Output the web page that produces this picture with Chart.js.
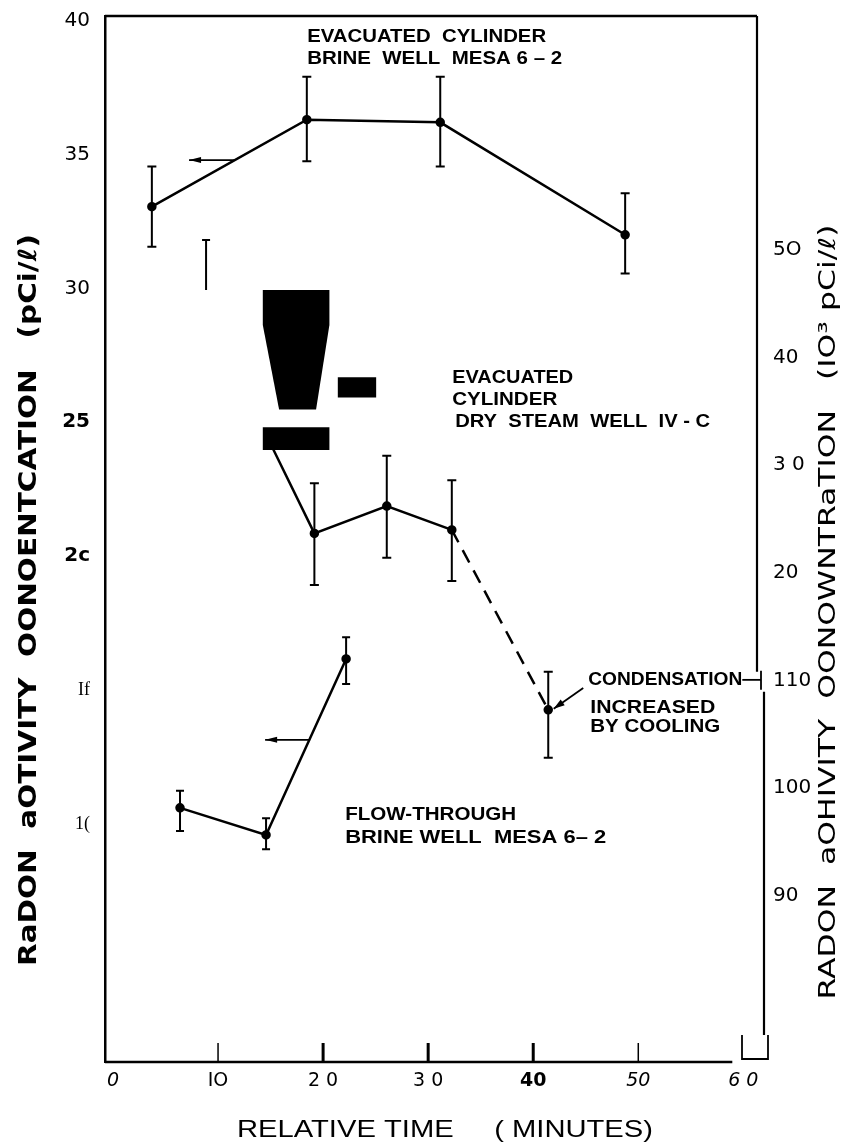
<!DOCTYPE html>
<html>
<head>
<meta charset="utf-8">
<script src="https://cdn.jsdelivr.net/npm/chart.js@4.4.1/dist/chart.umd.min.js"></script>
<style>
  html, body { margin: 0; padding: 0; background: #fff; }
  #myChart { display: block; }
</style>
</head>
<body>
<canvas id="myChart" width="846" height="1147"></canvas>
<script>
// evacuated cylinder, brine well Mesa 6-2 (left axis, pCi/l)
const brineCylTime = [3.7, 18.45, 31.15, 48.75];
const brineCylValue = [33.05, 36.3, 36.2, 32.0];
const brineCylLow = [31.55, 34.75, 34.55, 30.55];
const brineCylHigh = [34.55, 37.9, 37.9, 33.55];

// evacuated cylinder, dry steam well IV-C (first point lies under the blot)
const steamTime = [15.24, 19.17, 26.06, 32.25, 41.43];
const steamValue = [24.0, 20.85, 21.87, 20.98, 14.26];
const steamLow = [null, 18.92, 19.94, 19.07, 12.47];
const steamHigh = [null, 22.72, 23.75, 22.83, 15.68];

// flow-through, brine well Mesa 6-2
const flowTime = [6.38, 14.57, 22.19];
const flowValue = [10.6, 9.59, 16.16];
const flowLow = [9.74, 9.05, 15.23];
const flowHigh = [11.24, 10.21, 16.97];

// lone error bar left over near 9 min
const strayTime = [8.86];
const strayLow = [29.94];
const strayHigh = [31.81];

// axis arrows: which scale a curve belongs to
const arrowValue = [34.79, 13.14];
const arrowFrom = [11.62, 18.76];
const arrowTo = [7.24, 14.48];

const xTicks = [0, 10, 20, 30, 40, 50, 60];
const xTickLabels = ["0", "IO", "2 0", "3 0", "40", "50", "6 0"];
const leftTicks = [10, 15, 20, 25, 30, 35, 40];
const leftTickLabels = ["1(", "If", "2c", "25", "30", "35", "40"];
const rightTicks = [-10, 0, 10, 20, 30, 40, 50];
const rightTickLabels = ["90", "100", "110", "20", "3 0", "40", "5O"];

// text notes placed in data units
const notes = [
  { text: "EVACUATED  CYLINDER", t: 18.48, v: 39.39, w: 239, size: 18 },
  { text: "BRINE  WELL  MESA 6 – 2", t: 18.48, v: 38.56, w: 255, size: 18 },
  { text: "EVACUATED", t: 32.29, v: 26.65, w: 121, size: 18 },
  { text: "CYLINDER", t: 32.29, v: 25.83, w: 105, size: 18 },
  { text: "DRY  STEAM  WELL  IV - C", t: 32.57, v: 25.01, w: 255, size: 18 },
  { text: "CONDENSATION", t: 45.24, v: 15.38, w: 154, size: 18 },
  { text: "INCREASED", t: 45.43, v: 14.33, w: 125, size: 18 },
  { text: "BY COOLING", t: 45.43, v: 13.62, w: 130, size: 18 },
  { text: "FLOW-THROUGH", t: 22.1, v: 10.34, w: 171, size: 19 },
  { text: "BRINE WELL  MESA 6– 2", t: 22.1, v: 9.48, w: 261, size: 19 }
];

// black blots from the scan, in data units
const blots = [
  [[14.26, 29.94], [20.6, 29.94], [20.6, 28.63], [19.33, 25.48], [15.81, 25.48], [14.26, 28.63]],
  [[21.4, 26.68], [25.05, 26.68], [25.05, 25.92], [21.4, 25.92]],
  [[14.26, 24.81], [20.6, 24.81], [20.6, 23.96], [14.26, 23.96]]
];

function toPoints(xs, ys) {
  return xs.map((x, i) => ({ x: x, y: ys[i] }));
}

function drawArrow(c, x1, y1, x2, y2, len, half) {
  const a = Math.atan2(y2 - y1, x2 - x1);
  c.beginPath(); c.moveTo(x1, y1); c.lineTo(x2, y2); c.stroke();
  c.beginPath();
  c.moveTo(x2, y2);
  c.lineTo(x2 - len * Math.cos(a) + half * Math.sin(a), y2 - len * Math.sin(a) - half * Math.cos(a));
  c.lineTo(x2 - len * Math.cos(a) - half * Math.sin(a), y2 - len * Math.sin(a) + half * Math.cos(a));
  c.closePath(); c.fill();
}

function fitText(c, str, x, y, font, width, angle) {
  c.save();
  c.font = font;
  const m = c.measureText(str).width;
  c.translate(x, y);
  if (angle) c.rotate(angle);
  c.scale(width / m, 1);
  c.fillText(str, 0, 0);
  c.restore();
}

// keep label overflow from pushing the plot frame around
function noPad(s) {
  s.paddingTop = 0; s.paddingBottom = 0; s.paddingLeft = 0; s.paddingRight = 0;
}

const extras = {
  id: "extras",
  afterDatasetsDraw(chart) {
    const c = chart.ctx;
    const xs = chart.scales.x, ys = chart.scales.y;
    const area = chart.chartArea;
    c.save();
    c.strokeStyle = "#000";
    c.fillStyle = "#000";

    const ly = ys.getPixelForValue(15.38);

    // frame: top, bottom and the broken right edge
    c.lineWidth = 2.5;
    c.beginPath();
    c.moveTo(area.left, area.top); c.lineTo(area.right, area.top);
    c.moveTo(area.left, area.bottom); c.lineTo(xs.getPixelForValue(58.95), area.bottom);
    c.stroke();
    c.lineWidth = 2.2;
    c.beginPath();
    c.moveTo(area.right, area.top); c.lineTo(area.right, ly - 8);
    c.moveTo(area.right + 7, ly + 12); c.lineTo(area.right + 7, area.bottom - 27);
    c.stroke();
    c.lineWidth = 1.8;
    c.beginPath();
    c.moveTo(area.right + 4, ly - 9); c.lineTo(area.right + 4, ly + 10);
    c.moveTo(area.right - 15, area.bottom - 3); c.lineTo(area.right + 11, area.bottom - 3);
    c.moveTo(area.right - 15, area.bottom - 27); c.lineTo(area.right - 15, area.bottom - 2);
    c.moveTo(area.right + 11, area.bottom - 27); c.lineTo(area.right + 11, area.bottom - 2);
    c.stroke();

    // inward ticks on the time axis
    xTicks.forEach(v => {
      if (v === 0 || v === 60) return;
      const px = xs.getPixelForValue(v);
      c.lineWidth = (v >= 20 && v <= 40) ? 3 : 1.5;
      c.beginPath(); c.moveTo(px, area.bottom); c.lineTo(px, area.bottom - 19); c.stroke();
    });

    // error bars
    const bars = (tt, lo, hi, cap) => {
      c.lineWidth = 2;
      tt.forEach((t, i) => {
        if (lo[i] == null) return;
        const px = xs.getPixelForValue(t);
        const y1 = ys.getPixelForValue(lo[i]), y2 = ys.getPixelForValue(hi[i]);
        c.beginPath();
        c.moveTo(px, y1); c.lineTo(px, y2);
        c.moveTo(px - cap, y2); c.lineTo(px + cap, y2);
        c.moveTo(px - cap, y1); c.lineTo(px + cap, y1);
        c.stroke();
      });
    };
    bars(brineCylTime, brineCylLow, brineCylHigh, 4.5);
    bars(steamTime, steamLow, steamHigh, 4.5);
    bars(flowTime, flowLow, flowHigh, 4);
    strayTime.forEach((t, i) => {
      const px = xs.getPixelForValue(t);
      const y1 = ys.getPixelForValue(strayLow[i]), y2 = ys.getPixelForValue(strayHigh[i]);
      c.beginPath();
      c.moveTo(px, y1); c.lineTo(px, y2);
      c.moveTo(px - 4, y2); c.lineTo(px + 4, y2);
      c.stroke();
    });

    // blots
    blots.forEach(poly => {
      c.beginPath();
      poly.forEach((p, i) => {
        const px = xs.getPixelForValue(p[0]), py = ys.getPixelForValue(p[1]);
        if (i === 0) c.moveTo(px, py); else c.lineTo(px, py);
      });
      c.closePath(); c.fill();
    });

    // left arrows
    c.lineWidth = 1.8;
    arrowValue.forEach((v, i) => {
      const py = ys.getPixelForValue(v);
      drawArrow(c, xs.getPixelForValue(arrowFrom[i]), py, xs.getPixelForValue(arrowTo[i]), py, 12, 3);
    });

    // condensation pointer and leader to the right axis
    c.lineWidth = 1.8;
    drawArrow(c, xs.getPixelForValue(44.76), ys.getPixelForValue(15.08),
      xs.getPixelForValue(41.95), ys.getPixelForValue(14.3), 11, 3.5);
    c.beginPath(); c.moveTo(xs.getPixelForValue(59.9), ly); c.lineTo(area.right + 4, ly); c.stroke();

    // notes
    c.textBaseline = "middle";
    c.textAlign = "left";
    notes.forEach(n => {
      fitText(c, n.text, xs.getPixelForValue(n.t), ys.getPixelForValue(n.v),
        "bold " + n.size + "px 'Liberation Sans', Arial, sans-serif", n.w, 0);
    });
    c.restore();
  },
  afterDraw(chart) {
    const c = chart.ctx;
    c.save();
    c.fillStyle = "#000";
    c.textAlign = "center";
    c.textBaseline = "middle";
    fitText(c, "RaDON  aOTIVITY  OONOENTCATION   (pCi/ℓ)", 29, 600,
      "bold 25px 'DejaVu Sans', sans-serif", 732, -Math.PI / 2);
    fitText(c, "RADON  aOHIVITY  OONOWNTRaTION   (IO³ pCi/ℓ)", 829, 612,
      "23px 'DejaVu Sans', sans-serif", 775, -Math.PI / 2);
    fitText(c, "RELATIVE TIME     ( MINUTES)", 445, 1130,
      "24px 'Liberation Sans', sans-serif", 416, 0);
    c.restore();
  }
};

const ctx = document.getElementById("myChart");
new Chart(ctx, {
  type: "line",
  data: {
    datasets: [
      {
        label: "Evacuated cylinder, brine well Mesa 6-2",
        data: toPoints(brineCylTime, brineCylValue),
        borderColor: "#000", backgroundColor: "#000",
        borderWidth: 2.5, pointRadius: 3.5, tension: 0
      },
      {
        label: "Evacuated cylinder, dry steam well IV-C",
        data: toPoints(steamTime, steamValue),
        borderColor: "#000", backgroundColor: "#000",
        borderWidth: 2.5, pointRadius: [0, 3.5, 3.5, 3.5, 3.5], tension: 0,
        segment: { borderDash: s => s.p0DataIndex === 3 ? [14, 9] : undefined }
      },
      {
        label: "Flow-through, brine well Mesa 6-2",
        data: toPoints(flowTime, flowValue),
        borderColor: "#000", backgroundColor: "#000",
        borderWidth: 2.5, pointRadius: 3.5, tension: 0
      }
    ]
  },
  options: {
    responsive: false,
    animation: false,
    devicePixelRatio: 1,
    layout: { padding: { top: 16, left: 0, right: 0, bottom: 0 } },
    plugins: { legend: { display: false }, tooltip: { enabled: false } },
    scales: {
      x: {
        type: "linear", position: "bottom", min: -0.76, max: 61.3,
        afterBuildTicks: s => { s.ticks = xTicks.map(v => ({ value: v })); },
        afterFit: s => { s.height = 85; noPad(s); },
        grid: { display: false, drawTicks: false },
        border: { display: false },
        ticks: {
          autoSkip: false, maxRotation: 0, padding: 8, color: "#000",
          callback: v => xTickLabels[xTicks.indexOf(v)],
          font: c => {
            const v = c.tick ? c.tick.value : 0;
            if (v === 40) return { family: "'DejaVu Sans', sans-serif", size: 19, weight: "bold" };
            if (v === 0 || v >= 50) return { family: "'DejaVu Sans', sans-serif", size: 19, style: "italic" };
            return { family: "'DejaVu Sans', sans-serif", size: 19 };
          }
        }
      },
      y: {
        type: "linear", position: "left", min: 1.11, max: 40.17,
        afterBuildTicks: s => { s.ticks = leftTicks.map(v => ({ value: v })); },
        afterFit: s => { s.width = 105; noPad(s); },
        grid: { display: false, drawTicks: false },
        border: { display: true, color: "#000", width: 2.5 },
        ticks: {
          autoSkip: false, padding: 15, color: "#000",
          callback: v => leftTickLabels[leftTicks.indexOf(v)],
          font: c => {
            const v = c.tick ? c.tick.value : 0;
            if (v === 15 || v === 10) return { family: "'Liberation Serif', serif", size: 18 };
            if (v === 25 || v === 20) return { family: "'DejaVu Sans', sans-serif", size: 20, weight: "bold" };
            return { family: "'DejaVu Sans', sans-serif", size: 20 };
          }
        }
      },
      y2: {
        type: "linear", position: "right", min: -25.46, max: 71.75,
        afterBuildTicks: s => { s.ticks = rightTicks.map(v => ({ value: v })); },
        afterFit: s => { s.width = 89; noPad(s); },
        grid: { display: false, drawTicks: false },
        border: { display: false },
        ticks: {
          autoSkip: false, padding: 16, color: "#000",
          callback: v => rightTickLabels[rightTicks.indexOf(v)],
          font: { family: "'DejaVu Sans', sans-serif", size: 20 }
        }
      }
    }
  },
  plugins: [extras]
});
</script>
</body>
</html>
